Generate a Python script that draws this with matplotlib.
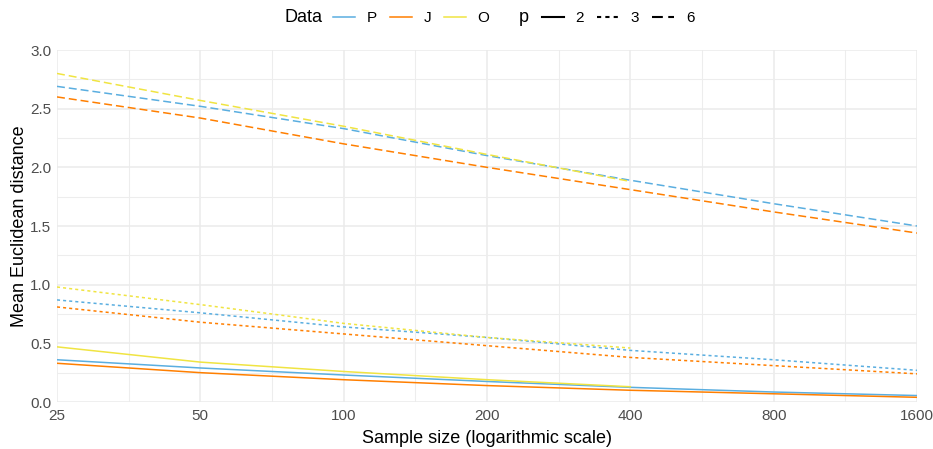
import numpy as np
import matplotlib.pyplot as plt
from matplotlib.lines import Line2D
from matplotlib.ticker import FixedLocator, NullFormatter

plt.rcParams['font.family'] = ['Liberation Sans', 'DejaVu Sans']

sizes = [25, 50, 100, 200, 400, 800, 1600]
sizes_o = [25, 50, 100, 200, 400]

# mean Euclidean distance
p2_P = [0.36, 0.29, 0.23, 0.175, 0.125, 0.085, 0.055]
p2_J = [0.33, 0.25, 0.19, 0.14, 0.10, 0.07, 0.04]
p2_O = [0.47, 0.34, 0.26, 0.19, 0.13]
p3_P = [0.87, 0.76, 0.64, 0.55, 0.44, 0.36, 0.27]
p3_J = [0.81, 0.68, 0.58, 0.48, 0.38, 0.31, 0.24]
p3_O = [0.98, 0.83, 0.67, 0.55, 0.46]
p6_P = [2.69, 2.52, 2.33, 2.10, 1.89, 1.69, 1.50]
p6_J = [2.60, 2.42, 2.20, 2.00, 1.81, 1.62, 1.44]
p6_O = [2.80, 2.57, 2.35, 2.11, 1.88]

colors = {'P': '#5AAEE0', 'J': '#FF7F00', 'O': '#F0E442'}
styles = {'2': '-', '3': (0, (2, 2)), '6': (0, (5.2, 2.6))}

fig = plt.figure(figsize=(9.33, 4.49), dpi=100)
ax = fig.add_axes([57 / 933, 1 - 402 / 449, 860 / 933, 352 / 449])

series = [
    ('P', '2', sizes, p2_P), ('J', '2', sizes, p2_J), ('O', '2', sizes_o, p2_O),
    ('P', '3', sizes, p3_P), ('J', '3', sizes, p3_J), ('O', '3', sizes_o, p3_O),
    ('P', '6', sizes, p6_P), ('J', '6', sizes, p6_J), ('O', '6', sizes_o, p6_O),
]
for d, p, xs, ys in series:
    ax.plot(xs, ys, color=colors[d], linestyle=styles[p], lw=1.1)

ax.set_xscale('log')
ax.set_xlim(25, 1600)
ax.set_ylim(0, 3)
ax.xaxis.set_major_locator(FixedLocator(sizes))
ax.set_xticklabels([str(s) for s in sizes])
minor_x = [s * np.sqrt(2) for s in sizes[:-1]]
ax.xaxis.set_minor_locator(FixedLocator(minor_x))
ax.xaxis.set_minor_formatter(NullFormatter())
ax.set_yticks([0, 0.5, 1.0, 1.5, 2.0, 2.5, 3.0])
ax.set_yticklabels(['0.0', '0.5', '1.0', '1.5', '2.0', '2.5', '3.0'])
ax.set_yticks([0.25, 0.75, 1.25, 1.75, 2.25, 2.75], minor=True)

ax.grid(True, which='major', color='#EBEBEB', lw=1.1)
ax.grid(True, which='minor', color='#EDEDED', lw=0.8)
ax.set_axisbelow(True)
for s in ax.spines.values():
    s.set_visible(False)
ax.tick_params(which='both', length=0, labelsize=11, labelcolor='#4D4D4D')
ax.tick_params(axis='x', pad=5)
ax.tick_params(axis='y', pad=4)

ax.set_xlabel('Sample size (logarithmic scale)', fontsize=13, labelpad=5)
ax.set_ylabel('Mean Euclidean distance', fontsize=13, labelpad=2)

# legends across the top
ymid = 1 - 18 / 449
fig.text(284 / 933, ymid, 'Data', fontsize=13, va='center', ha='left')
fig.text(519 / 933, ymid, 'p', fontsize=13, va='center', ha='left')
h_data = [Line2D([], [], color=colors[k], lw=1.1) for k in ['P', 'J', 'O']]
h_p = [Line2D([], [], color='black', lw=1.5, linestyle=styles[k]) for k in ['2', '3', '6']]
kw = dict(ncol=3, frameon=False, fontsize=11, loc='center left',
          handlelength=1.45, handletextpad=0.75, columnspacing=0.85,
          borderpad=0, borderaxespad=0)
fig.legend(h_data, ['P', 'J', 'O'], bbox_to_anchor=(333 / 933, ymid), **kw)
fig.legend(h_p, ['2', '3', '6'], bbox_to_anchor=(542 / 933, ymid), **kw)

fig.savefig('out.png', dpi=100)
